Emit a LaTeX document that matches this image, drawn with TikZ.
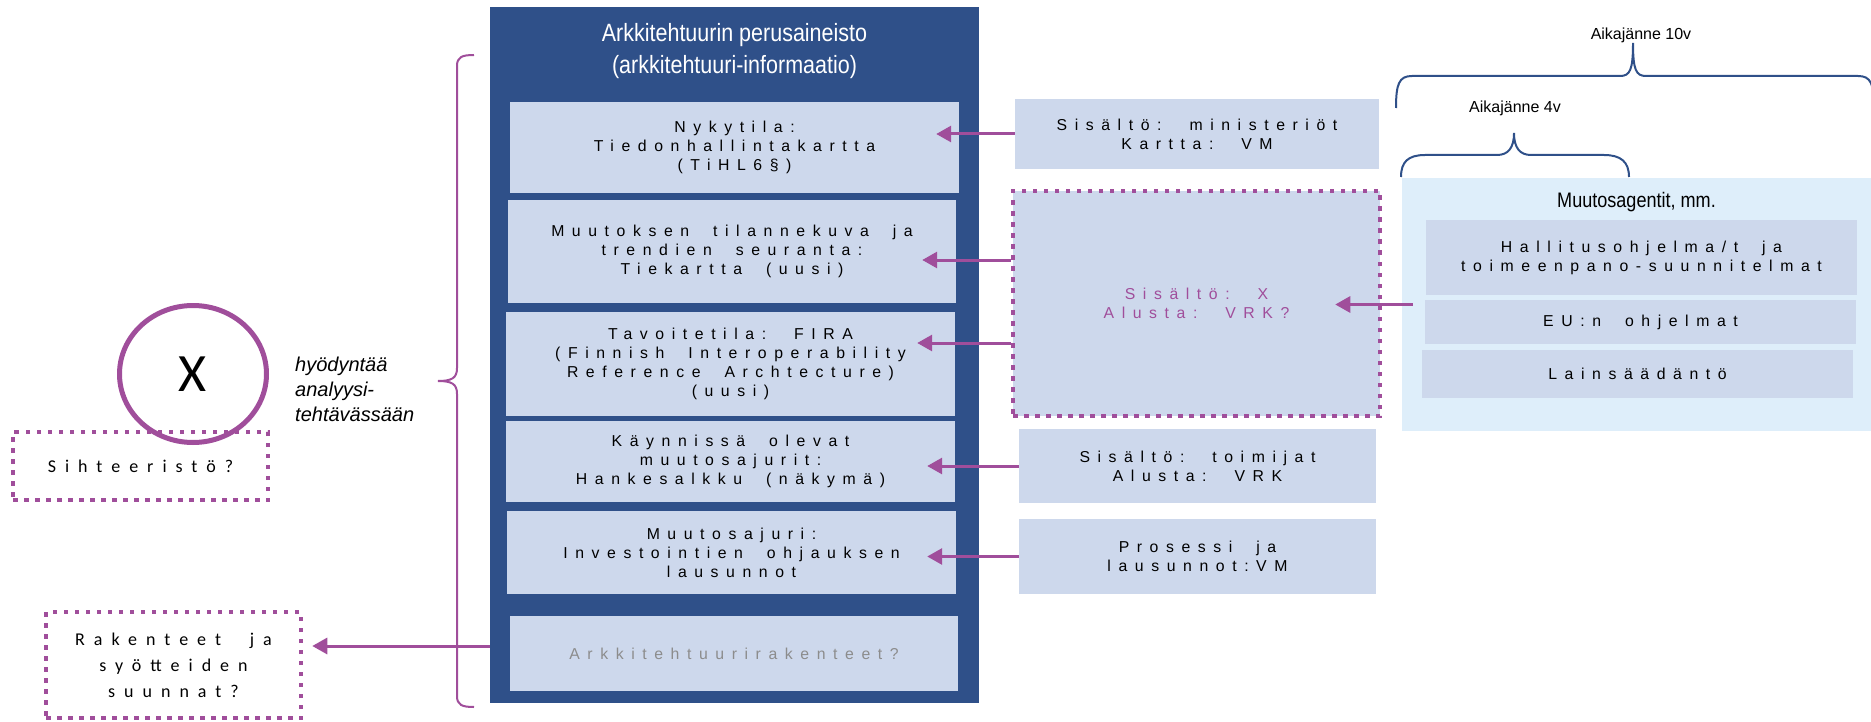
\documentclass[tikz,border=0pt]{standalone}
\usepackage{fontspec}
\setmainfont{Liberation Sans}
\newfontfamily\harva[LetterSpace=48,WordSpace=2.0]{Liberation Sans}
\newfontfamily\kapea[FakeStretch=0.86]{Liberation Sans}
\newfontfamily\calibri{Carlito}
\newfontfamily\calharva[LetterSpace=50,WordSpace=2.2]{Carlito}
\usepackage{tikz}
\usetikzlibrary{arrows.meta,shapes.geometric}
\definecolor{paneeli}{RGB}{47,80,137}
\definecolor{boxblue}{RGB}{205,216,236}
\definecolor{vaalea}{RGB}{222,238,250}
\definecolor{lila}{RGB}{160,78,155}
\definecolor{harmaa}{RGB}{140,140,140}

\begin{document}
\begin{tikzpicture}[x=1pt,y=-1pt,
    laatikko/.style={rectangle, fill=boxblue, inner sep=0pt, align=center,
        font=\harva\fontsize{15.8}{19}\selectfont},
    pisteet/.style={draw=lila, line width=4.5pt, dash pattern=on 4.5pt off 6.5pt},
    nuoli/.style={draw=lila, line width=3pt, -{Triangle[length=15pt,width=16pt]}},
    kaari/.style={line width=2pt}]
    \useasboundingbox (0,0) rectangle (1871,722);

    % arkkitehtuurin perusaineisto
    \node[fill=paneeli, minimum width=489pt, minimum height=696pt] (panel) at (734.5,355) {};
    \node[text=white, align=center, font=\kapea\fontsize{25}{32}\selectfont] (otsikko) at (734.5,51)
        {Arkkitehtuurin perusaineisto\\(arkkitehtuuri-informaatio)};
    \node[laatikko, minimum width=449pt, minimum height=91pt] (nyky) at (734.5,147.5)
        {Nykytila:\\Tiedonhallintakartta\\(TiHL6§)};
    \node[laatikko, minimum width=448pt, minimum height=103pt] (muutos) at (732,251.5)
        {Muutoksen tilannekuva ja\\trendien seuranta:\\Tiekartta (uusi)};
    \node[laatikko, minimum width=449pt, minimum height=104pt] (tavoite) at (730.5,364)
        {Tavoitetila: FIRA\\(Finnish Interoperability\\Reference Archtecture)\\(uusi)};
    \node[laatikko, minimum width=449pt, minimum height=81pt] (kaynnissa) at (730.5,461.5)
        {Käynnissä olevat\\muutosajurit:\\Hankesalkku (näkymä)};
    \node[laatikko, minimum width=449pt, minimum height=83pt] (ajuri) at (731.5,552.5)
        {Muutosajuri:\\Investointien ohjauksen\\lausunnot};
    \node[laatikko, text=harmaa, minimum width=448pt, minimum height=75pt] (rakenteet) at (734,653.5)
        {Arkkitehtuurirakenteet?};

    % sisallot ja alustat
    \node[laatikko, minimum width=364pt, minimum height=70pt] (ministeriot) at (1197,134)
        {Sisältö: ministeriöt\\Kartta: VM};
    \node[laatikko, pisteet, text=lila, minimum width=367pt, minimum height=225pt] (alusta) at (1196.5,303.5)
        {Sisältö: X\\Alusta: VRK?};
    \node[laatikko, minimum width=357pt, minimum height=74pt] (toimijat) at (1197.5,466)
        {Sisältö: toimijat\\Alusta: VRK};
    \node[laatikko, minimum width=357pt, minimum height=75pt] (prosessi) at (1197.5,556.5)
        {Prosessi ja\\lausunnot:VM};

    % muutosagentit
    \node[fill=vaalea, minimum width=469pt, minimum height=253pt] (agentit) at (1636.5,304.5) {};
    \node[font=\kapea\fontsize{21}{25}\selectfont] (agotsikko) at (1636.5,202) {Muutosagentit, mm.};
    \node[laatikko, minimum width=431pt, minimum height=75pt] (hallitus) at (1641.5,257.5)
        {Hallitusohjelma/t ja\\toimeenpano-suunnitelmat};
    \node[laatikko, minimum width=431pt, minimum height=44pt] (eu) at (1640.5,322) {EU:n ohjelmat};
    \node[laatikko, minimum width=431pt, minimum height=48pt] (laki) at (1637.5,374) {Lainsäädäntö};

    \node[font=\fontsize{16}{19}\selectfont] (aika10) at (1641,35) {Aikajänne 10v};
    \node[font=\fontsize{16}{19}\selectfont] (aika4) at (1515,108) {Aikajänne 4v};
    \draw[kaari, draw=paneeli] (1396,108) .. controls (1396,84) and (1399,76) .. (1412,76) -- (1620,76)
        .. controls (1630,76) and (1633,70) .. (1633,43) .. controls (1633,70) and (1636,76) .. (1646,76)
        -- (1858,76) .. controls (1871,76) and (1874,84) .. (1874,108);
    \draw[kaari, draw=paneeli] (1401,177) .. controls (1401,162) and (1408,155) .. (1425,155) -- (1497,155)
        .. controls (1508,155) and (1514,148) .. (1514,133) .. controls (1514,148) and (1520,155) .. (1531,155)
        -- (1604,155) .. controls (1621,155) and (1629,162) .. (1629,177);

    % vasen puoli
    \node[pisteet, minimum width=255pt, minimum height=68pt, inner sep=0pt,
        font=\calharva\fontsize{18}{26}\selectfont] (sihteeristo) at (140.5,466) {Sihteeristö?};
    \node[pisteet, minimum width=255pt, minimum height=106pt, inner sep=0pt, align=center,
        font=\calharva\fontsize{18}{26}\selectfont] (suunnat) at (173.5,665)
        {Rakenteet ja\\syötteiden\\suunnat?};
    \node[ellipse, draw=lila, line width=5pt, minimum width=147pt, minimum height=137pt,
        font=\calibri\fontsize{54}{60}\selectfont] (x) at (193,374) {X};
    \node[anchor=west, align=left, inner sep=0pt, font=\itshape\fontsize{20}{25}\selectfont] (hyodyntaa) at (295,389)
        {hyödyntää\\analyysi-\\tehtävässään};
    \draw[kaari, draw=lila] (474,55) .. controls (462,55) and (457,57) .. (457,66) -- (457,368)
        .. controls (457,378) and (452,381) .. (438,381) .. controls (452,381) and (457,384) .. (457,394)
        -- (457,696) .. controls (457,705) and (462,707) .. (474,707);

    % nuolet
    \coordinate (a2) at ([yshift=43.5pt]alusta.west);
    \coordinate (a3) at ([yshift=-39.5pt]alusta.west);
    \coordinate (a7) at ([yshift=19pt]suunnat.east);
    \draw[nuoli, shorten >=-23pt] (ministeriot.west) -- (ministeriot.west -| nyky.east);
    \draw[nuoli, shorten >=-34pt] (a2) -- (a2 -| muutos.east);
    \draw[nuoli, shorten >=-38pt] (a3) -- (a3 -| tavoite.east);
    \draw[nuoli, shorten >=-28pt] (toimijat.west) -- (toimijat.west -| kaynnissa.east);
    \draw[nuoli, shorten >=-29pt] (prosessi.west) -- (prosessi.west -| ajuri.east);
    \draw[nuoli, shorten >=-47pt] ([xshift=11pt]agentit.west) -- (agentit.west -| alusta.east);
    \draw[nuoli, shorten >=9pt] (a7 -| panel.west) -- (a7);
\end{tikzpicture}
\end{document}
